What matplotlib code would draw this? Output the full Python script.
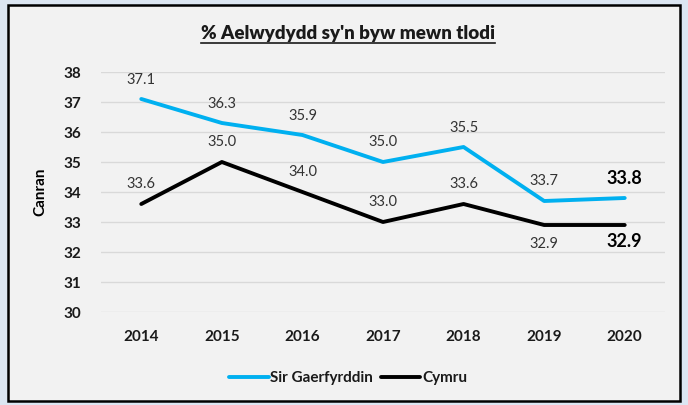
import matplotlib
matplotlib.use("Agg")
import matplotlib.pyplot as plt
from matplotlib.patches import Rectangle
from matplotlib.lines import Line2D

plt.rcParams['font.family'] = ['Lato', 'DejaVu Sans']

years = ['2014', '2015', '2016', '2017', '2018', '2019', '2020']
sir_gaer = [37.1, 36.3, 35.9, 35.0, 35.5, 33.7, 33.8]
cymru = [33.6, 35.0, 34.0, 33.0, 33.6, 32.9, 32.9]
yticks = [30, 31, 32, 33, 34, 35, 36, 37, 38]

blue = '#00b0f0'
fig = plt.figure(figsize=(6.88, 4.05), dpi=100)
fig.patch.set_facecolor('#dce6f2')

# inner chart box
W, H = 688, 405
fig.patches.append(Rectangle((8 / W, 4 / H), 672 / W, 396 / H, transform=fig.transFigure,
                             facecolor='#f2f2f2', edgecolor='black', linewidth=1.8, zorder=-10))

ax = fig.add_axes([101 / W, 1 - 312 / H, 564 / W, 240 / H])
ax.set_zorder(1)
ax.set_facecolor('none')
x = range(len(years))
ax.plot(x, sir_gaer, color=blue, lw=2.8, solid_capstyle='round', label='Sir Gaerfyrddin', zorder=3)
ax.plot(x, cymru, color='black', lw=2.8, solid_capstyle='round', label='Cymru', zorder=3)

ax.set_xlim(-0.5, len(years) - 0.5)
ax.set_ylim(30, 38)
ax.set_yticks(yticks)
ax.set_xticks(list(x))
ax.set_xticklabels(years)
ax.tick_params(length=0, labelsize=11, labelcolor='#1a1a1a')
for lab in ax.get_xticklabels() + ax.get_yticklabels():
    lab.set_fontweight('bold')
ax.tick_params(axis='x', pad=13)
ax.tick_params(axis='y', pad=14)
ax.grid(axis='y', color='#d9d9d9', lw=1)
ax.set_axisbelow(True)
for s in ax.spines.values():
    s.set_visible(False)

# data labels
last = len(years) - 1
for i, v in enumerate(sir_gaer):
    if i == last:
        ax.annotate(f'{v:.1f}', (i, v), xytext=(0, 8), textcoords='offset points',
                    ha='center', va='bottom', fontsize=13, fontweight='bold')
    else:
        ax.annotate(f'{v:.1f}', (i, v), xytext=(0, 9), textcoords='offset points',
                    ha='center', va='bottom', fontsize=10.5, color='#333333')
for i, v in enumerate(cymru):
    if i == last:
        ax.annotate(f'{v:.1f}', (i, v), xytext=(0, -6), textcoords='offset points',
                    ha='center', va='top', fontsize=13, fontweight='bold')
    elif i == 5:
        ax.annotate(f'{v:.1f}', (i, v), xytext=(0, -9), textcoords='offset points',
                    ha='center', va='top', fontsize=10.5, color='#333333')
    else:
        ax.annotate(f'{v:.1f}', (i, v), xytext=(0, 9), textcoords='offset points',
                    ha='center', va='bottom', fontsize=10.5, color='#333333')

ax.set_ylabel('Canran', fontsize=11, fontweight='bold', labelpad=12)

# title with underline
t = fig.text(348 / W, 1 - 33 / H, "% Aelwydydd sy'n byw mewn tlodi", ha='center', va='center',
             fontsize=13.5, fontweight='heavy', color='#1a1a1a')
fig.canvas.draw()
bb = t.get_window_extent().transformed(fig.transFigure.inverted())
fig.add_artist(Line2D([bb.x0, bb.x1], [bb.y0 - 0.004, bb.y0 - 0.004], color='#1a1a1a', lw=1.2,
                      transform=fig.transFigure))

leg = fig.legend(loc='center', bbox_to_anchor=(348 / W, 1 - 378 / H), ncol=2, frameon=False,
                 fontsize=11, handlelength=2.6, handletextpad=0.1, columnspacing=0.5)
for txt in leg.get_texts():
    txt.set_fontweight('bold')
    txt.set_color('#1a1a1a')

fig.savefig('out.png', dpi=100, facecolor=fig.get_facecolor())
